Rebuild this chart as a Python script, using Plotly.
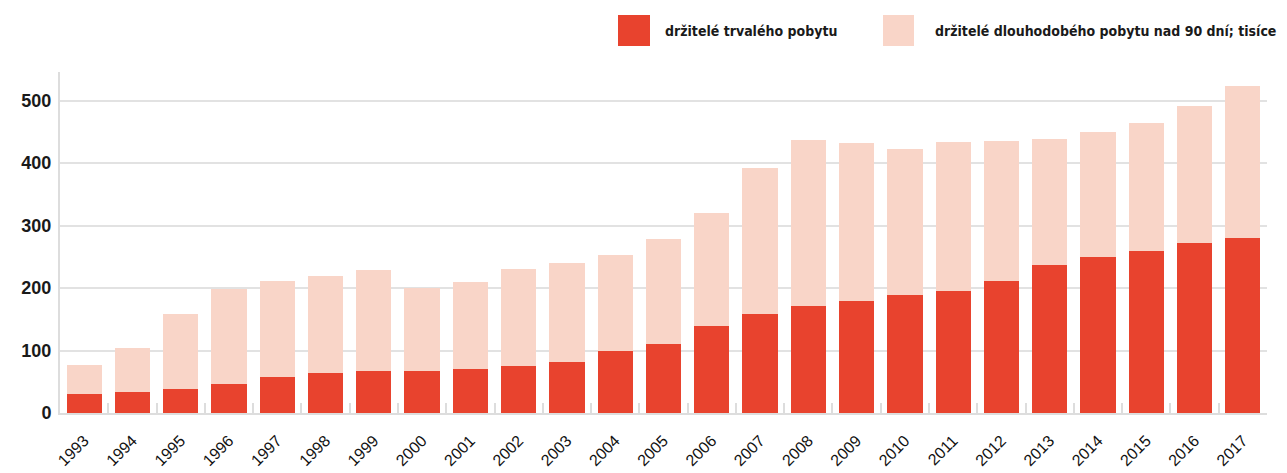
import plotly.graph_objects as go

years = [str(y) for y in range(1993, 2018)]
permanent = [30, 34, 38.5, 46.5, 57.5, 64, 67, 67, 70.5, 75, 82, 99.5, 110.5, 139.5, 158.5,
             171.5, 179.5, 189, 195.5, 211.5, 237, 250, 259.5, 272.5, 280.5]
total = [77, 104, 158.5, 199, 211.5, 219.5, 229, 200, 210, 231, 240.5, 253, 279, 320.5, 392.5,
         437.5, 432.5, 423, 434, 436, 439, 450, 465, 492, 524]
long_term = [round(t - p, 1) for t, p in zip(total, permanent)]

legend_labels = ["držitelé trvalého pobytu", "držitelé dlouhodobého pobytu nad 90 dní; tisíce"]
RED = "#E8432E"
LIGHT = "#F9D5C8"

fig = go.Figure()
fig.add_bar(x=years, y=permanent, name=legend_labels[0], marker_color=RED,
            marker_line_width=0, showlegend=False)
fig.add_bar(x=years, y=long_term, name=legend_labels[1], marker_color=LIGHT,
            marker_line_width=0, showlegend=False)

# page body has an 8px margin, so the figure starts at page (8, 8)
OFF = 8
W, H = 1287 - OFF, 473 - OFF
ml, mr, mt, mb = 60 - OFF, 20, 72 - OFF, 60

fig.update_layout(
    width=W, height=H, barmode="stack", bargap=0.27,
    margin=dict(l=ml, r=mr, t=mt, b=mb, autoexpand=False),
    paper_bgcolor="white", plot_bgcolor="white",
    font=dict(family="Liberation Sans", color="#1a1a1a"),
)
fig.update_xaxes(
    type="category", range=[-0.5, 24.5], tickangle=-45,
    tickson="boundaries", ticks="inside", ticklen=10, tickcolor="#dddddd", tickwidth=2,
    showline=True, linecolor="#dddddd", linewidth=2, showgrid=False,
    tickfont=dict(family="Liberation Sans", size=16, color="#111111"),
    ticklabelstandoff=10, automargin=False,
)
fig.update_yaxes(
    range=[0, 546], tickvals=[0, 100, 200, 300, 400, 500],
    showline=True, linecolor="#dddddd", linewidth=2,
    showgrid=True, gridcolor="#e2e2e2", gridwidth=1.5, zeroline=False,
    tickfont=dict(family="Liberation Sans", size=18, color="#1a1a1a", weight="bold"),
    ticklabelstandoff=3, automargin=False,
)

# Manual legend (large swatches), positions given in page pixels
def px_x(p):
    return (p - OFF - ml) / (W - ml - mr)

def px_y(p):
    return 1 - (p - OFF - mt) / (H - mt - mb)

for (x0, x1, col, tx, label) in [(618, 650, RED, 663, legend_labels[0]),
                                 (883, 914, LIGHT, 933, legend_labels[1])]:
    fig.add_shape(type="rect", xref="paper", yref="paper",
                  x0=px_x(x0), x1=px_x(x1), y0=px_y(46), y1=px_y(15),
                  fillcolor=col, line_width=0)
    fig.add_annotation(xref="paper", yref="paper", x=px_x(tx), y=px_y(31),
                       xanchor="left", yanchor="middle", showarrow=False, text=label,
                       font=dict(family="DejaVu Sans Condensed, DejaVu Sans", size=14,
                                 color="#1a1a1a", weight="bold"))

fig.write_html("out.html")
